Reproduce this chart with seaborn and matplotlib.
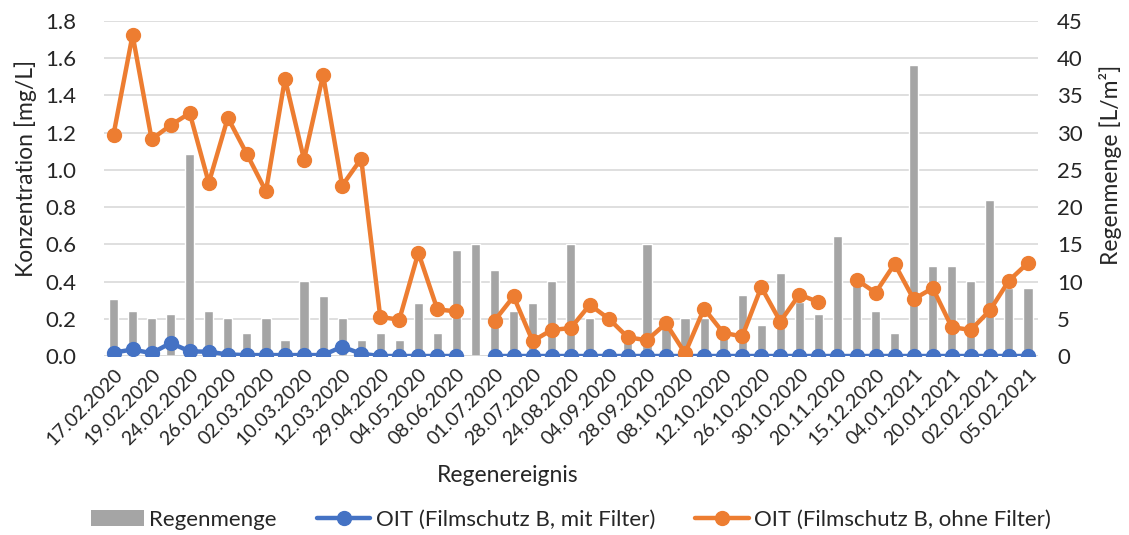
import matplotlib
matplotlib.use("Agg")
import matplotlib.pyplot as plt
import numpy as np
import pandas as pd
import seaborn as sns
from matplotlib.lines import Line2D
from matplotlib.patches import Patch

# Daten
date_labels = ["17.02.2020", "19.02.2020", "24.02.2020", "26.02.2020", "02.03.2020",
               "10.03.2020", "12.03.2020", "29.04.2020", "04.05.2020", "08.06.2020",
               "01.07.2020", "28.07.2020", "24.08.2020", "04.09.2020", "28.09.2020",
               "08.10.2020", "12.10.2020", "26.10.2020", "30.10.2020", "20.11.2020",
               "15.12.2020", "04.01.2021", "20.01.2021", "02.02.2021", "05.02.2021"]

regenmenge = [7.6, 6.1, 5.1, 5.6, 27.1, 6.1, 5.1, 3.1, 5.1, 2.1,
              10.1, 8.1, 5.1, 2.1, 3.1, 2.1, 7.1, 3.1, 14.2, 15.1,
              11.6, 6.1, 7.1, 10.1, 15.1, 5.1, 0.5, 2.5, 15.1, 4.0,
              5.1, 5.1, 3.0, 8.2, 4.1, 11.1, 7.2, 5.6, 16.1, 10.0,
              6.1, 3.1, 39.1, 12.1, 12.1, 10.1, 21.0, 9.1, 9.1]

oit_mit_filter = [0.018, 0.035, 0.015, 0.07, 0.025, 0.023, 0.008, 0.005, 0.005, 0.005,
                  0.005, 0.005, 0.05, 0.012, 0.0, 0.0, 0.0, 0.0, 0.0, np.nan,
                  0.0, 0.0, 0.0, 0.0, 0.0, 0.0, 0.0, 0.0, 0.0, 0.0,
                  0.0, 0.0, 0.0, 0.0, 0.0, 0.0, 0.0, 0.0, 0.0, 0.0,
                  0.0, 0.0, 0.0, 0.0, 0.0, 0.0, 0.0, 0.0, 0.0]

oit_ohne_filter = [1.19, 1.725, 1.165, 1.24, 1.305, 0.93, 1.28, 1.085, 0.885, 1.49,
                   1.055, 1.51, 0.915, 1.06, 0.21, 0.195, 0.555, 0.25, 0.24, np.nan,
                   0.19, 0.32, 0.08, 0.14, 0.15, 0.275, 0.20, 0.10, 0.085, 0.175,
                   0.015, 0.255, 0.125, 0.105, 0.37, 0.185, 0.33, 0.29, np.nan, 0.41,
                   0.34, 0.495, 0.305, 0.365, 0.155, 0.14, 0.245, 0.405, 0.50]

GRAY = "#a5a5a5"
BLUE = "#4472c4"
ORANGE = "#ed7d31"

sns.set_theme(style="white")
plt.rcParams["font.family"] = ["Lato", "DejaVu Sans"]

n = len(regenmenge)
df = pd.DataFrame({"Ereignis": np.arange(n), "Regenmenge": regenmenge})

fig = plt.figure(figsize=(11.29, 5.35), dpi=100)
ax = fig.add_axes([104 / 1129, 1 - 356 / 535, 933.5 / 1129, 335 / 535])
ax2 = ax.twinx()

# Balken (rechte Achse)
sns.barplot(data=df, x="Ereignis", y="Regenmenge", color=GRAY, width=0.48,
            saturation=1, ax=ax2, zorder=2)
ax2.set_ylim(0, 45)
ax2.set_yticks(np.arange(0, 46, 5))
ax2.yaxis.grid(True, color="#d9d9d9", linewidth=1.2)
ax2.set_axisbelow(True)
ax2.set_ylabel("Regenmenge [L/m²]", fontsize=16.5, rotation=90, va="top")
ax2.yaxis.set_label_coords(1.066, 0.57)

# Linien (linke Achse) - NaN erzeugt Luecken wie im Original
x = np.arange(n)
ax.plot(x, oit_mit_filter, color=BLUE, linewidth=3.2, marker="o", markersize=10)
ax.plot(x, oit_ohne_filter, color=ORANGE, linewidth=3.2, marker="o", markersize=10)
ax.set_zorder(ax2.get_zorder() + 1)
ax.patch.set_visible(False)

ax.set_xlim(-0.5, n - 0.5)
ax.set_ylim(0, 1.8)
ax.set_yticks(np.arange(0, 1.81, 0.2))
ax.set_yticklabels([f"{v:.1f}" for v in np.arange(0, 1.81, 0.2)])
ax.set_xticks(np.arange(0, n, 2))
ax.set_xticklabels(date_labels, rotation=45, ha="right", rotation_mode="anchor")
ax.set_ylabel("Konzentration [mg/L]", fontsize=16.5)
ax.yaxis.set_label_coords(-0.072, 0.56)
ax.set_xlabel("Regenereignis", fontsize=16.5)
ax.xaxis.set_label_coords(0.432, -0.325)

for a in (ax, ax2):
    for s in a.spines.values():
        s.set_visible(False)
    a.tick_params(length=0, labelsize=16)
ax.tick_params(axis="y", pad=20)
ax.tick_params(axis="x", pad=7, labelsize=14)
ax2.tick_params(axis="y", pad=14)
ax.axhline(0, color="#d9d9d9", linewidth=1.2, zorder=0)

handles = [Patch(facecolor=GRAY, edgecolor="none"),
           Line2D([], [], color=BLUE, linewidth=3.2, marker="o", markersize=10),
           Line2D([], [], color=ORANGE, linewidth=3.2, marker="o", markersize=10)]
names = ["Regenmenge", "OIT (Filmschutz B, mit Filter)", "OIT (Filmschutz B, ohne Filter)"]
fig.legend(handles, names, loc="center", bbox_to_anchor=((104 + 933.5 / 2) / 1129, 1 - 520 / 535),
           ncol=3, frameon=False, fontsize=16, handlelength=2.4, handletextpad=0.25,
           columnspacing=1.8)

fig.savefig("out.png", dpi=100)
